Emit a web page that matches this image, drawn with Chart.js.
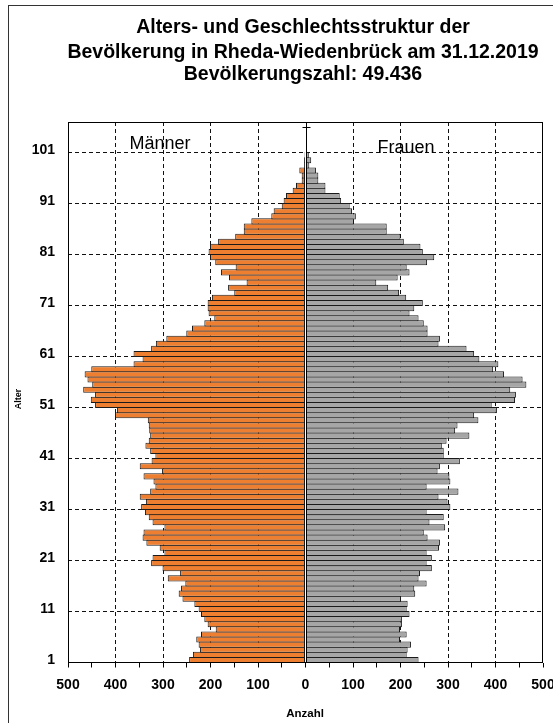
<!DOCTYPE html>
<html lang="de">
<head>
<meta charset="utf-8">
<title>Alters- und Geschlechtsstruktur Rheda-Wiedenbrück 2019</title>
<script src="https://cdn.jsdelivr.net/npm/chart.js@4.4.1/dist/chart.umd.min.js"></script>
<style>
  html, body { margin: 0; padding: 0; background: #fff; }
  #wrap { position: relative; width: 553px; height: 723px; }
</style>
</head>
<body>
<div id="wrap"><canvas id="pyramid"></canvas></div>
<script>
// Zeilen von unten (1) nach oben (106), Beschriftung wie im Original
const ageRows = Array.from({ length: 106 }, (_, i) => String(i + 1));
const yTickLabels = ['1', '11', '21', '31', '41', '51', '61', '71', '81', '91', '101'];

// Anzahl je Altersjahr
const maenner = [
  245, 237, 222, 225, 230, 220, 189, 206, 213, 220,
  225, 234, 259, 267, 262, 253, 290, 264, 301, 325,
  322, 297, 307, 335, 343, 341, 297, 322, 330, 338,
  346, 336, 349, 327, 316, 320, 341, 302, 349, 324,
  316, 327, 337, 330, 327, 329, 330, 332, 401, 397,
  443, 452, 443, 468, 449, 459, 465, 451, 362, 343,
  362, 325, 315, 293, 251, 239, 213, 192, 204, 206,
  206, 197, 150, 163, 124, 161, 178, 147, 190, 201,
  204, 201, 184, 148, 130, 130, 114, 72, 67, 50,
  46, 41, 27, 20, 8, 8, 13, 3, 3, 2,
  1, 0, 0, 0, 0, 0
];
const frauen = [
  238, 213, 215, 222, 199, 213, 199, 203, 203, 219,
  213, 215, 201, 231, 229, 255, 238, 241, 266, 255,
  266, 255, 281, 283, 257, 249, 294, 261, 291, 255,
  305, 299, 280, 322, 255, 305, 303, 278, 283, 325,
  291, 291, 287, 297, 345, 315, 320, 364, 355, 403,
  392, 441, 443, 431, 465, 457, 418, 395, 406, 366,
  355, 339, 280, 283, 257, 257, 249, 238, 219, 229,
  247, 212, 197, 174, 149, 194, 219, 213, 256, 271,
  247, 242, 207, 200, 171, 171, 102, 106, 98, 93,
  75, 72, 42, 42, 27, 27, 22, 8, 12, 7,
  3, 0, 0, 0, 0, 0
];

const titleLines = [
  'Alters- und Geschlechtsstruktur der',
  'Bevölkerung in Rheda-Wiedenbrück am 31.12.2019',
  'Bevölkerungszahl: 49.436'
];

const FONT = "'Liberation Sans', Arial, sans-serif";
const gridDash = [4, 3];

// Rahmen, Mittelachse und Beschriftungen
const deko = {
  id: 'deko',
  beforeDraw(chart) {
    const { ctx, width, height } = chart;
    ctx.save();
    ctx.fillStyle = '#fff';
    ctx.fillRect(0, 0, width, height);
    ctx.restore();
  },
  afterDraw(chart) {
    const { ctx, chartArea: a, scales: { x, y } } = chart;
    ctx.save();
    ctx.lineWidth = 1;

    // aeusserer Rahmen (rechts/unten abgeschnitten)
    ctx.strokeStyle = '#333';
    ctx.strokeRect(8.5, 5.5, 700, 800);

    // Diagrammrahmen
    ctx.strokeStyle = '#000';
    const l = Math.round(a.left) + 0.5, t = Math.round(a.top) + 0.5;
    const r = Math.round(a.right) - 0.5, b = Math.round(a.bottom) - 0.5;
    ctx.strokeRect(l, t, r - l, b - t);

    // Mittelachse
    const x0 = Math.round(x.getPixelForValue(0)) + 0.5;
    ctx.beginPath();
    ctx.moveTo(x0, a.top);
    ctx.lineTo(x0, a.bottom);
    const yTop = (y.getPixelForValue(104) + y.getPixelForValue(105)) / 2;
    ctx.moveTo(x0 - 4, Math.round(yTop) + 0.5);
    ctx.lineTo(x0 + 4, Math.round(yTop) + 0.5);
    ctx.stroke();

    ctx.fillStyle = '#000';
    ctx.textAlign = 'center';
    ctx.textBaseline = 'alphabetic';
    ctx.font = 'bold 19.5px ' + FONT;
    [33, 57.5, 80].forEach((yy, i) => ctx.fillText(titleLines[i], 303, yy));

    ctx.font = '18px ' + FONT;
    ctx.fillText('Männer', 160, 149);
    ctx.fillText('Frauen', 406, 152.5);

    ctx.font = 'bold 11.5px ' + FONT;
    ctx.textBaseline = 'middle';
    ctx.fillText('Anzahl', 305, 714);

    ctx.translate(18.5, 399);
    ctx.rotate(-Math.PI / 2);
    ctx.font = 'bold 9px ' + FONT;
    ctx.fillText('Alter', 0, 0);
    ctx.restore();
  }
};

new Chart(document.getElementById('pyramid'), {
  type: 'bar',
  data: {
    labels: ageRows,
    datasets: [
      {
        label: 'Männer',
        data: maenner.map(v => -v),
        backgroundColor: '#EF7F30',
        borderColor: '#1a1a1a',
        borderWidth: 1,
        borderSkipped: false,
        barPercentage: 1.2,
        categoryPercentage: 1
      },
      {
        label: 'Frauen',
        data: frauen,
        backgroundColor: '#A6A6A6',
        borderColor: '#1a1a1a',
        borderWidth: 1,
        borderSkipped: false,
        barPercentage: 1.2,
        categoryPercentage: 1
      }
    ]
  },
  options: {
    indexAxis: 'y',
    responsive: true,
    maintainAspectRatio: false,
    animation: false,
    layout: { padding: { top: 122, right: 10, left: 0, bottom: 0 } },
    plugins: {
      legend: { display: false },
      title: { display: false },
      tooltip: { enabled: false }
    },
    scales: {
      x: {
        type: 'linear',
        min: -500,
        max: 500,
        stacked: true,
        afterFit(s) {
          s.height = 60.5;
          s.paddingLeft = 0;
          s.paddingRight = 0;
        },
        grid: {
          color: c => {
            const v = c.tick ? c.tick.value : null;
            return (v !== null && v % 100 === 0 && v !== 0 && Math.abs(v) !== 500) ? '#111' : 'rgba(0,0,0,0)';
          },
          lineWidth: 1,
          tickColor: '#000',
          tickLength: 5
        },
        border: { display: false, dash: gridDash },
        ticks: {
          stepSize: 50,
          autoSkip: false,
          maxRotation: 0,
          padding: 9,
          color: '#000',
          font: { family: FONT, size: 14, weight: 'bold' },
          callback: v => (v % 100 === 0 ? String(Math.abs(v)) : '')
        }
      },
      y: {
        type: 'category',
        reverse: true,
        stacked: true,
        offset: true,
        afterFit(s) {
          s.width = 68;
          s.paddingTop = 0;
          s.paddingBottom = 0;
        },
        grid: {
          offset: true,
          drawTicks: false,
          lineWidth: 1,
          color: c => (c.index % 10 === 0 && c.index > 0 && c.index < ageRows.length) ? '#111' : 'rgba(0,0,0,0)'
        },
        border: { display: false, dash: gridDash },
        ticks: {
          autoSkip: false,
          padding: 13,
          color: '#000',
          font: { family: FONT, size: 14, weight: 'bold' },
          callback(v) {
            const l = this.getLabelForValue(v);
            return yTickLabels.includes(l) ? l : '';
          }
        }
      }
    }
  },
  plugins: [deko]
});
</script>
</body>
</html>
